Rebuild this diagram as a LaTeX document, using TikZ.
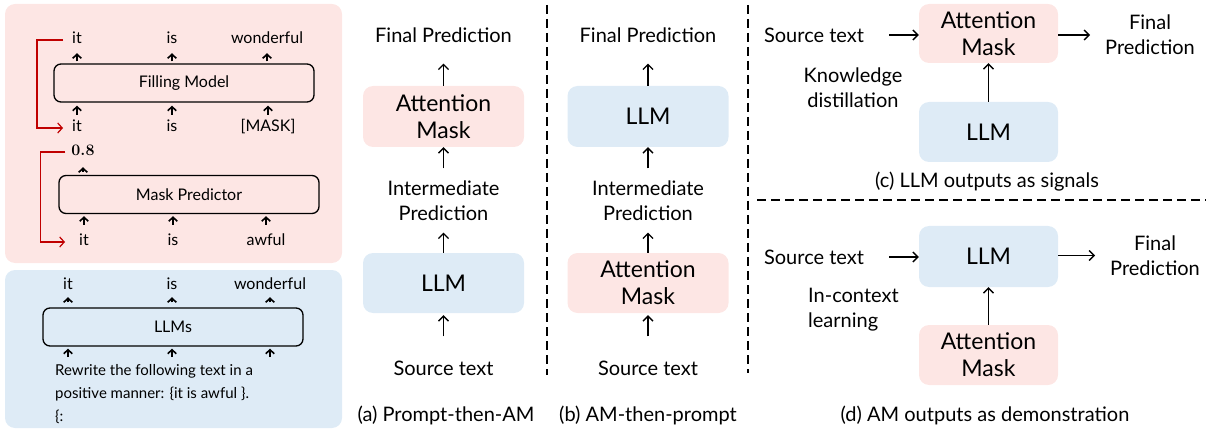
\documentclass[tikz,border=0pt]{standalone}
\usepackage{fontspec}
\usepackage{amsmath}
\usepackage{tikz}
\usetikzlibrary{arrows.meta,positioning}
\newfontfamily\dengxian{Lato}
\definecolor{ampink}{HTML}{FDE6E4}
\definecolor{llmblue}{HTML}{DEEBF6}
\definecolor{bracketred}{HTML}{C00000}

\begin{document}
\begin{tikzpicture}[x=1pt,y=-1pt,font=\dengxian,
    word/.style={inner sep=0pt,text height=11.5pt,text depth=3.5pt,font=\dengxian\fontsize{16}{18}\selectfont},
    modelbox/.style={draw,rounded corners=7pt,line width=1.3pt,minimum width=260pt,minimum height=38pt,font=\dengxian\fontsize{16}{18}\selectfont},
    tok/.style={-{Straight Barb[length=4pt,width=8.5pt]},line width=1.6pt},
    loopback/.style={draw=bracketred,line width=1.2pt,-{Straight Barb[length=4.5pt,width=10pt]}},
    amask/.style={fill=ampink,rounded corners=10pt,align=center,font=\dengxian\fontsize{23}{27}\selectfont},
    llmbox/.style={fill=llmblue,rounded corners=10pt,align=center,font=\dengxian\fontsize{23}{27}\selectfont},
    lbl/.style={inner sep=0pt,align=center,font=\dengxian\fontsize{20}{25}\selectfont},
    flow/.style={-{Straight Barb[length=5pt,width=10pt]},line width=1.3pt},
    sep/.style={dash pattern=on 9pt off 5pt,line width=1.5pt}]%
        %\draw[step=50,color=gray,very thin] (0,0) grid (1206,430);%%
        \useasboundingbox (0,0) rectangle (1206,430);%%
        \fill[ampink,rounded corners=10pt] (5,4) rectangle (342,263);%%
        \fill[llmblue,rounded corners=10pt] (5,270) rectangle (342,428);%%
        % filling model
        \node[modelbox] (fm) at (184,83) {Filling Model};%%
        \begin{scope}
        \tikzstyle{every node}=[word] %%
        \node (o1) at (77,40) {it}; %%
        \node (o2) at (172,40) {is}; %%
        \node (o3) at (267,40) {wonderful}; %%
        \node (i1) at (77,128) {it}; %%
        \node (i2) at (172,128) {is}; %%
        \node (i3) at (268,128) {[MASK]}; %%
        \end{scope}
        \foreach \w in {o1,o2,o3}
            \draw[tok,shorten <=2pt,shorten >=5.5pt] (\w |- fm.north) -- (\w); %%
        \foreach \w in {i1,i2,i3}
            \draw[tok,shorten <=5.5pt,shorten >=3pt] (\w) -- (\w |- fm.south); %%
        \draw[loopback,shorten <=9pt,shorten >=9pt] (o1.west) -- ++(-35,0) |- (i1.west); %%
        % mask predictor
        \node[modelbox] (mp) at (189,194.5) {Mask Predictor};%%
        \begin{scope}
        \tikzstyle{every node}=[word] %%
        \node[font=\rmfamily\bfseries\fontsize{16}{18}\selectfont] (s8) at (83,152) {0.8}; %%
        \node (m1) at (84,242) {it}; %%
        \node (m2) at (173,242) {is}; %%
        \node (m3) at (266,242) {awful}; %%
        \end{scope}
        \draw[tok,shorten <=3pt,shorten >=7.5pt] (s8 |- mp.north) -- (s8); %%
        \foreach \w in {m1,m2,m3}
            \draw[tok,shorten <=9.5pt,shorten >=2pt] (\w) -- (\w |- mp.south); %%
        \draw[loopback,shorten <=6pt,shorten >=14pt] (s8.west) -- ++(-31,0) |- (m1.west); %%
        % prompting an llm
        \node[modelbox] (llms) at (173,327) {LLMs};%%
        \begin{scope}
        \tikzstyle{every node}=[word] %%
        \node (l1) at (68,285) {it}; %%
        \node (l2) at (172,285) {is}; %%
        \node (l3) at (270,285) {wonderful}; %%
        \end{scope}
        \node[anchor=north west,inner sep=0pt,align=left,font=\dengxian\fontsize{15}{23}\selectfont] (prompt) at (55,364)
            {Rewrite the following text in a\\positive manner: \{it is awful \}.\\\{:}; %%
        \foreach \w in {l1,l2,l3}
            \draw[tok,shorten <=5pt,shorten >=4.5pt] (\w |- llms.north) -- (\w); %%
        \foreach \w in {l1,l2,l3}
            \draw[tok,shorten <=7pt,shorten >=2pt] (prompt.north -| \w) -- (\w |- llms.south); %%
        % (a) prompt-then-AM
        \node[lbl] (fpa) at (443.5,35) {Final Prediction}; %%
        \node[amask,minimum width=161pt,minimum height=61pt] (ama) at (443.5,116.5) {Attention\\Mask}; %%
        \node[lbl] (ipa) at (443.5,200.5) {Intermediate\\Prediction}; %%
        \node[llmbox,minimum width=161pt,minimum height=60pt] (llma) at (443.5,283) {LLM}; %%
        \node[lbl] (sta) at (443.5,368) {Source text}; %%
        \node[lbl] at (446,415) {(a) Prompt-then-AM}; %%
        \draw[flow,shorten >=21pt] (ama) -- (fpa); %%
        \draw[flow,shorten <=12pt] (ipa) -- (ama); %%
        \draw[flow,shorten >=12pt] (llma) -- (ipa); %%
        \draw[flow,shorten <=24pt,shorten >=2pt] (sta) -- (llma); %%
        % (b) AM-then-prompt
        \node[lbl] (fpb) at (648,35) {Final Prediction}; %%
        \node[llmbox,minimum width=161pt,minimum height=61pt] (llmb) at (648,116.5) {LLM}; %%
        \node[lbl] (ipb) at (648,200.5) {Intermediate\\Prediction}; %%
        \node[amask,minimum width=161pt,minimum height=60pt] (amb) at (648,283) {Attention\\Mask}; %%
        \node[lbl] (stb) at (648,368) {Source text}; %%
        \node[lbl] at (648,415) {(b) AM-then-prompt}; %%
        \draw[flow,shorten >=21pt] (llmb) -- (fpb); %%
        \draw[flow,shorten <=12pt] (ipb) -- (llmb); %%
        \draw[flow,shorten >=12pt] (amb) -- (ipb); %%
        \draw[flow,shorten <=24pt,shorten >=2pt] (stb) -- (amb); %%
        % (c) LLM outputs as signals
        \node[lbl] (stc) at (814,35) {Source text}; %%
        \node[amask,minimum width=139pt,minimum height=59pt] (amc) at (988.5,33.5) {Attention\\Mask}; %%
        \node[lbl] (fpc) at (1150,35) {Final\\Prediction}; %%
        \node[llmbox,minimum width=139pt,minimum height=60pt] (llmc) at (988.5,132) {LLM}; %%
        \node[lbl] at (853,87.5) {Knowledge\\distillation}; %%
        \node[lbl] at (987,182) {(c) LLM outputs as signals}; %%
        \draw[flow,shorten <=25pt] (stc) -- (stc -| amc.west); %%
        \draw[flow,shorten >=15pt] (amc.east |- fpc) -- (fpc.west); %%
        \draw[flow] (llmc) -- (amc); %%
        % (d) AM outputs as demonstration
        \node[lbl] (std) at (814,257) {Source text}; %%
        \node[llmbox,minimum width=139pt,minimum height=61pt] (llmd) at (988.5,256.5) {LLM}; %%
        \node[lbl] (fpd) at (1155,255.5) {Final\\Prediction}; %%
        \node[amask,minimum width=139pt,minimum height=60pt] (amd) at (988.5,355) {Attention\\Mask}; %%
        \node[lbl,anchor=west,align=left] at (808,310) {In-context\\learning}; %%
        \node[lbl] at (985,415) {(d) AM outputs as demonstration}; %%
        \draw[flow,shorten <=25pt] (std) -- (std -| llmd.west); %%
        \draw[flow,shorten >=15pt] (llmd.east |- fpd) -- (fpd.west); %%
        \draw[flow] (amd) -- (llmd); %%
        % separators
        \draw[sep] (547,5) -- (547,375); %%
        \draw[sep] (748,5) -- (748,373); %%
        \draw[sep] (757,200) -- (1206,200); %%
\end{tikzpicture}
\end{document}
